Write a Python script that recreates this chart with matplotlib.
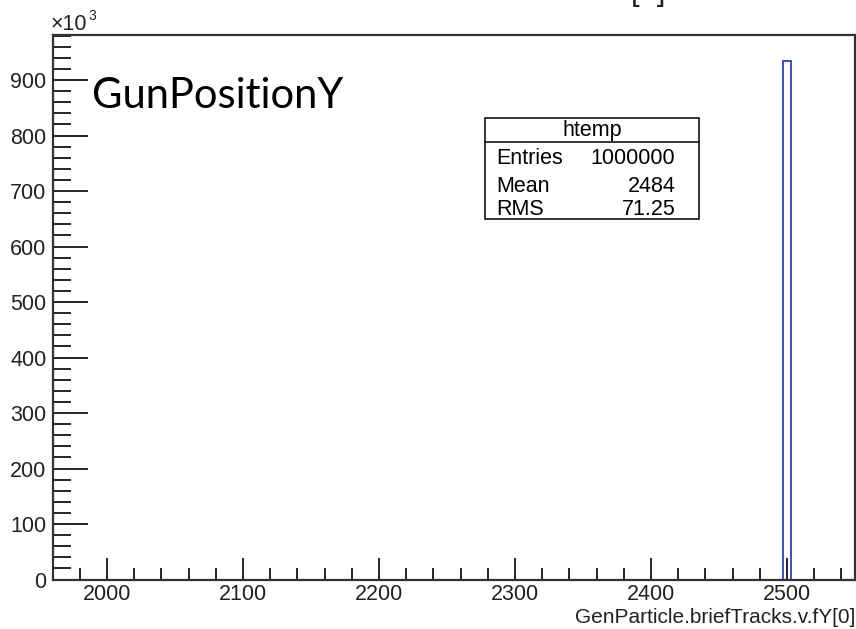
import numpy as np
import matplotlib
matplotlib.use("Agg")
import matplotlib.pyplot as plt
from matplotlib.ticker import MultipleLocator, FuncFormatter

# ---- data ----
x_min, x_max, n_bins = 1960.0, 2550.0, 100
counts = [0] * 91 + [935000] + [0] * 8
stats_labels = ["Entries", "Mean", "RMS"]
stats_values = ["1000000", "2484", "71.25"]
hist_name = "htemp"
x_label = "GenParticle.briefTracks.v.fY[0]"
title = "GenParticle.briefTracks.v.fY[0]"
annotation = "GunPositionY"

W, H, DPI = 856, 629, 100
plt.rcParams['font.family'] = ['Liberation Sans', 'DejaVu Sans']
fig = plt.figure(figsize=(W / DPI, H / DPI), dpi=DPI)

def fx(px):
    return px / W

def fy(py):
    return 1 - py / H

FS = 15.5
left, right, top, bottom = 52.7, 855.0, 34.7, 579.5
ax = fig.add_axes([fx(left), fy(bottom), fx(right - left), (bottom - top) / H])

edges = np.linspace(x_min, x_max, n_bins + 1)
ax.stairs(counts, edges, color='#2b48a8', linewidth=1.3)

ymax = 1.05 * max(counts)
ax.set_xlim(x_min, x_max)
ax.set_ylim(0, ymax)

ax.xaxis.set_major_locator(MultipleLocator(100))
ax.xaxis.set_minor_locator(MultipleLocator(20))
ax.yaxis.set_major_locator(MultipleLocator(100000))
ax.yaxis.set_minor_locator(MultipleLocator(20000))
ax.yaxis.set_major_formatter(FuncFormatter(lambda v, p: f"{v/1000:.0f}"))

ax.tick_params(axis='both', which='both', direction='in', top=False, right=False,
               labelsize=FS, colors='black', labelcolor='#222222')
ax.tick_params(axis='y', which='major', length=25, width=1.2, pad=4.5)
ax.tick_params(axis='y', which='minor', length=13, width=1.2)
ax.tick_params(axis='x', which='major', length=16, width=1.2, pad=3.5)
ax.tick_params(axis='x', which='minor', length=9, width=1.2)
for s in ax.spines.values():
    s.set_linewidth(1.6)
    s.set_color('#333333')

# x10^3 multiplier
fig.text(fx(51), fy(30), "\u00d710", fontsize=FS, color='#222222', ha='left', va='baseline')
fig.text(fx(88), fy(20), "3", fontsize=10, color='#222222', ha='left', va='baseline')

# axis label, right aligned
fig.text(fx(855), fy(623), x_label, fontsize=15, color='#222222', ha='right', va='baseline')

# clipped title at top (only its lower edge is visible, as in the reference)
fig.text(fx(455), fy(0), title, fontsize=22.5, color='#222222', ha='center', va='baseline')

# annotation
fig.text(fx(92), fy(108), annotation, fontsize=30, family=['Lato', 'DejaVu Sans'],
         color='black', ha='left', va='baseline')

# stats box
bx0, bx1, by0, by1, bsep = 485, 699.3, 118, 219.3, 141.7
box = plt.Rectangle((fx(bx0), fy(by1)), fx(bx1 - bx0), (by1 - by0) / H,
                    transform=fig.transFigure, fill=True, facecolor='white',
                    edgecolor='black', linewidth=1.1, zorder=5)
fig.add_artist(box)
fig.add_artist(plt.Line2D([fx(bx0), fx(bx1)], [fy(bsep), fy(bsep)],
                          transform=fig.transFigure, color='black', linewidth=1.1, zorder=6))
fig.text(fx((bx0 + bx1) / 2), fy(130.5), hist_name, fontsize=FS, ha='center', va='center', zorder=7)
row_y = [159, 186, 209.5]
for lab, val, yy in zip(stats_labels, stats_values, row_y):
    fig.text(fx(bx0 + 11), fy(yy), lab, fontsize=FS, ha='left', va='center', zorder=7)
    fig.text(fx(bx1 - 24), fy(yy), val, fontsize=FS, ha='right', va='center', zorder=7)

fig.savefig("out.png", dpi=DPI)
